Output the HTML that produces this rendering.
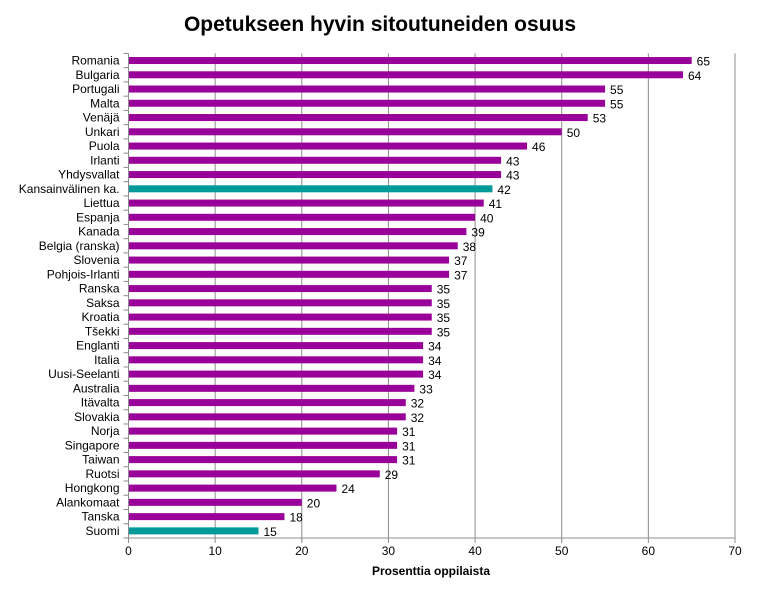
<!DOCTYPE html>
<html><head><meta charset="utf-8"><style>
body{margin:0;background:#fff;font-family:"Liberation Sans",sans-serif;}
</style></head><body>
<svg id="c" width="783" height="597" xmlns="http://www.w3.org/2000/svg">
<text x="380" y="31" text-anchor="middle" font-size="21" font-weight="bold" font-family="Liberation Sans, sans-serif">Opetukseen hyvin sitoutuneiden osuus</text>
<text x="431" y="575" text-anchor="middle" font-size="12" font-weight="bold" font-family="Liberation Sans, sans-serif">Prosenttia oppilaista</text>
</svg>
<script>
const categories=["Romania","Bulgaria","Portugali","Malta","Venäjä","Unkari","Puola","Irlanti","Yhdysvallat","Kansainvälinen ka.","Liettua","Espanja","Kanada","Belgia (ranska)","Slovenia","Pohjois-Irlanti","Ranska","Saksa","Kroatia","Tšekki","Englanti","Italia","Uusi-Seelanti","Australia","Itävalta","Slovakia","Norja","Singapore","Taiwan","Ruotsi","Hongkong","Alankomaat","Tanska","Suomi"];
const values=[65,64,55,55,53,50,46,43,43,42,41,40,39,38,37,37,35,35,35,35,34,34,34,33,32,32,31,31,31,29,24,20,18,15];
const highlighted=["Kansainvälinen ka.","Suomi"];
const xTicks=[0,10,20,30,40,50,60,70];
const svg=document.getElementById('c');const NS='http://www.w3.org/2000/svg';
const x0=128.5,x1=735,yTop=53.4,yBot=538;
const xs=v=>x0+v*(x1-x0)/70;
const step=(yBot-yTop)/categories.length;
function mk(t,a){const e=document.createElementNS(NS,t);for(const k in a)e.setAttribute(k,a[k]);svg.appendChild(e);return e;}
xTicks.forEach(t=>{
 if(t>0){const g=mk('line',{x1:xs(t),x2:xs(t),y1:yTop,y2:yBot,stroke:'#8c8c8c','stroke-width':1});
 
 }
 const tk=mk('line',{x1:xs(t),x2:xs(t),y1:yBot,y2:yBot+5,stroke:'#8c8c8c'});
 
 
 const l=mk('text',{x:xs(t),y:yBot+17,'text-anchor':'middle','font-size':12,'font-family':'Liberation Sans, sans-serif'});l.textContent=t;
 
 
});
for(let i=0;i<=categories.length;i++){const y=yTop+i*step;const t=mk('line',{x1:x0-5,x2:x0,y1:y,y2:y,stroke:'#8c8c8c'});
 
 }
categories.forEach((c,i)=>{
 const cy=yTop+(i+0.5)*step,v=values[i];
 const b=mk('rect',{x:x0,y:cy-3.5,width:xs(v)-x0,height:7,fill:highlighted.includes(c)?'#009999':'#990099'});
 
 
 const l=mk('text',{x:x0-9,y:cy+4,'text-anchor':'end','font-size':12,'font-family':'Liberation Sans, sans-serif'});l.textContent=c;
 
 
 const vl=mk('text',{x:xs(v)+5,y:cy+5,'font-size':12,'font-family':'Liberation Sans, sans-serif'});vl.textContent=v;
 
 
});
const ax=mk('line',{x1:x0,x2:x0,y1:yTop,y2:yBot,stroke:'#8c8c8c'});


const bx=mk('line',{x1:x0,x2:x1,y1:yBot,y2:yBot,stroke:'#8c8c8c'});


</script>
</body></html>
